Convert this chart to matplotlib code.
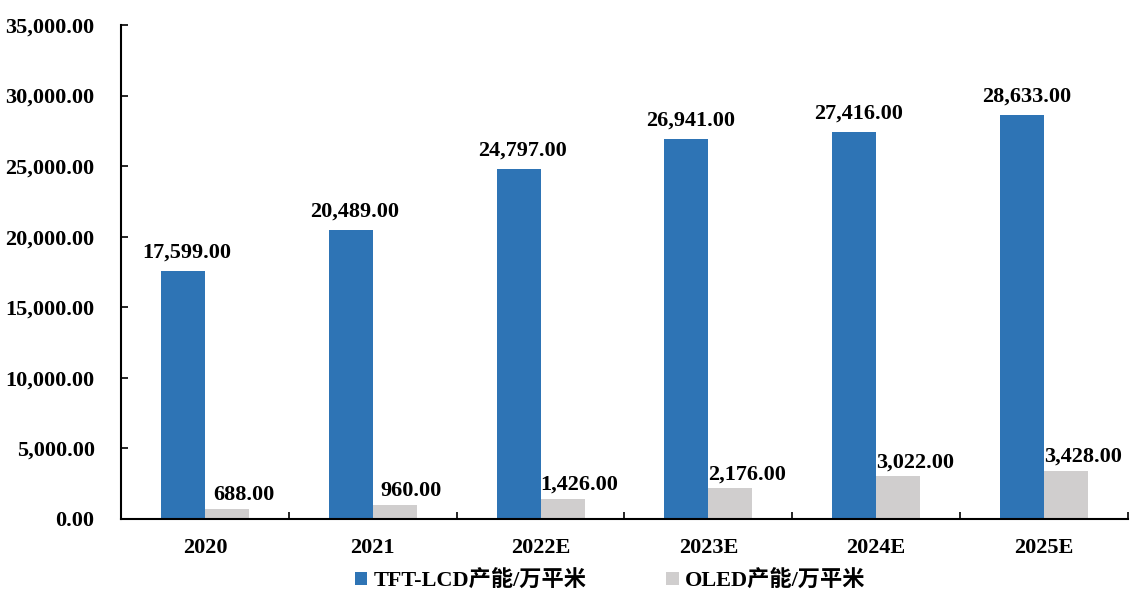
import matplotlib
matplotlib.use("Agg")
import matplotlib.pyplot as plt
import numpy as np
from matplotlib.ticker import FuncFormatter, FixedLocator

categories = ["2020", "2021", "2022E", "2023E", "2024E", "2025E"]
tft_lcd = [17599, 20489, 24797, 26941, 27416, 28633]
oled = [688, 960, 1426, 2176, 3022, 3428]
series_names = ["TFT-LCD产能/万平米", "OLED产能/万平米"]

blue = "#2E74B5"
grey = "#D0CECE"
fam = ["Liberation Serif", "Noto Sans CJK SC"]
plt.rcParams["font.family"] = fam
plt.rcParams["font.weight"] = "bold"
fs = 16

fig = plt.figure(figsize=(11.32, 5.92), dpi=100)
ax = fig.add_axes([121/1132, 1-519/592, (1128-121)/1132, (519-25)/592])

x = np.arange(len(categories))
w = 44/168
b1 = ax.bar(x - w/2, tft_lcd, w, color=blue, label=series_names[0])
b2 = ax.bar(x + w/2, oled, w, color=grey, label=series_names[1])

for xi, v in zip(x, tft_lcd):
    ax.annotate(f"{v:,.2f}", (xi - w/2, v), xytext=(3, 6), textcoords="offset points",
                ha="center", va="bottom", fontsize=fs, fontweight="bold")
for xi, v in zip(x, oled):
    ax.annotate(f"{v:,.2f}", (xi + w/2, v), xytext=(12, 3), textcoords="offset points",
                ha="center", va="bottom", fontsize=fs, fontweight="bold")

ax.set_xlim(-0.5, len(categories) - 0.5)
ax.set_ylim(0, 35000)
ax.set_yticks(np.arange(0, 35001, 5000))
ax.yaxis.set_major_formatter(FuncFormatter(lambda v, p: f"{v:,.2f}"))
ax.set_xticks(x)
ax.set_xticklabels(categories)
ax.xaxis.set_minor_locator(FixedLocator(np.arange(0.5, len(categories) - 0.4, 1)))
ax.tick_params(axis="x", which="major", length=0, pad=14, labelsize=fs)
ax.tick_params(axis="x", which="minor", direction="in", length=5, width=1.2)
ax.tick_params(axis="y", direction="in", length=5, width=1.2, labelsize=fs, pad=19)
for lbl in ax.get_xticklabels() + ax.get_yticklabels():
    lbl.set_fontweight("bold")

for s in ["top", "right"]:
    ax.spines[s].set_visible(False)
for s in ["left", "bottom"]:
    ax.spines[s].set_linewidth(1.5)
    ax.spines[s].set_color("#000000")

leg = fig.legend(handles=[b1, b2], labels=series_names, loc="center",
                 bbox_to_anchor=(0.539, 1-581/592), ncol=2, frameon=False,
                 prop={"family": fam, "weight": "bold", "size": fs},
                 handlelength=0.55, handleheight=0.55, handletextpad=0.3,
                 columnspacing=3.6)

fig.savefig("out.png", dpi=100)
